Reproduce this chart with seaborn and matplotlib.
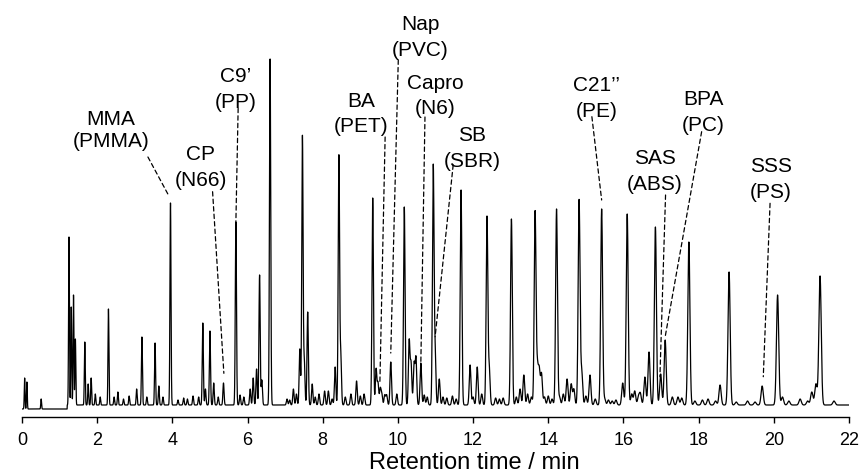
import numpy as np
import pandas as pd
import matplotlib
matplotlib.use("Agg")
import matplotlib.pyplot as plt
import seaborn as sns

# ---------------- data ----------------
# retention times (min) of peaks and their apex heights (arbitrary units)
peak_times = [0.07, 0.13, 0.51,
              1.25, 1.31, 1.37, 1.42, 1.67, 1.76, 1.84, 1.95, 2.08, 2.30, 2.45, 2.55,
              2.70, 2.85, 3.05, 3.19, 3.32, 3.54, 3.64, 3.75, 3.95, 4.15, 4.30, 4.40,
              4.55, 4.70, 4.81, 4.88, 5.00, 5.10, 5.22, 5.36, 5.69, 5.80, 5.90, 6.07,
              6.15, 6.24, 6.32, 6.38, 6.60, 7.05, 7.12, 7.22, 7.30, 7.39, 7.46, 7.51,
              7.60, 7.72, 7.80, 7.90, 8.05, 8.15, 8.25, 8.33, 8.43, 8.48, 8.60, 8.75,
              8.90, 9.00, 9.10, 9.33, 9.42, 9.47, 9.53, 9.57, 9.65, 9.70, 9.81, 9.97,
              10.17, 10.30, 10.35, 10.43, 10.48, 10.61, 10.70, 10.78, 10.94,
              10.99, 11.10, 11.20, 11.30, 11.45, 11.55, 11.68, 11.92, 12.00, 12.11,
              12.23, 12.37, 12.43, 12.60, 12.70, 12.80, 13.02, 13.15, 13.25, 13.35,
              13.45, 13.55, 13.65, 13.71, 13.76, 13.82, 13.90, 14.00, 14.10, 14.22,
              14.30, 14.40, 14.50, 14.61, 14.68, 14.82, 14.89, 15.00, 15.11, 15.25,
              15.42, 15.50, 15.60, 15.70, 15.80, 15.98, 16.10, 16.22, 16.30, 16.40,
              16.45, 16.57, 16.68, 16.85, 16.99, 17.11, 17.30, 17.45, 17.55, 17.74,
              17.90, 18.10, 18.25, 18.45, 18.57, 18.81, 19.00, 19.30, 19.50, 19.69,
              20.10, 20.23, 20.40, 20.70, 20.90, 21.01, 21.12, 21.23, 21.60]
peak_heights = [31, 27, 10,
                172, 102, 114, 70, 67, 25, 31, 15, 12, 100, 12, 17,
                10, 13, 20, 72, 12, 66, 23, 12, 206, 9, 11, 10,
                13, 12, 86, 20, 78, 26, 12, 26, 187, 14, 12, 20,
                31, 40, 134, 29, 350, 10, 9, 20, 15, 60, 273, 47,
                97, 25, 12, 15, 18, 18, 10, 42, 253, 53, 12, 15,
                28, 13, 15, 211, 40, 26, 20, 15, 14, 14, 47, 15,
                202, 68, 45, 45, 51, 46, 14, 12, 242,
                54, 30, 12, 11, 13, 10, 219, 44, 12, 42,
                15, 192, 40, 11, 10, 11, 190, 12, 20, 34,
                15, 12, 197, 40, 38, 35, 12, 13, 10, 200,
                12, 15, 30, 25, 20, 209, 37, 13, 34, 10,
                200, 10, 9, 8, 9, 26, 195, 15, 18, 12,
                15, 32, 57, 182, 35, 69, 12, 12, 11, 167,
                8, 9, 10, 8, 24, 137, 7, 8, 7, 23,
                114, 12, 8, 10, 8, 17, 25, 133, 8]
baseline_level = 4.0          # detector baseline after the solvent delay
solvent_delay_end = 1.2       # min

x_ticks = [0, 2, 4, 6, 8, 10, 12, 14, 16, 18, 20, 22]
x_label = "Retention time / min"

# annotations: marker compound / polymer, text baseline position, dashed leader line
label_names = ["MMA", "CP", "C9\u2019", "BA", "Nap", "Capro", "SB",
               "C21\u2019\u2019", "SAS", "BPA", "SSS"]
label_polymers = ["(PMMA)", "(N66)", "(PP)", "(PET)", "(PVC)", "(N6)", "(SBR)",
                  "(PE)", "(ABS)", "(PC)", "(PS)"]
label_x = [2.37, 4.76, 5.68, 9.03, 10.59, 10.99, 11.97, 15.28, 16.84, 18.13, 19.93]
label_y_name = [284.0, 249.0, 327.5, 302.5, 379.2, 320.5, 268.2, 318.2, 245.5, 304.2, 237.5]
label_y_poly = [262.0, 223.5, 301.5, 277.2, 353.2, 294.8, 242.2, 292.2, 218.8, 278.2, 211.5]
leader_start_x = [3.35, 5.07, 5.75, 9.66, 10.01, 10.72, 11.47, 15.16, 17.12, 18.08, 19.90]
leader_start_y = [252.0, 217.3, 300.7, 272.0, 349.0, 292.0, 244.0, 292.3, 214.0, 277.3, 205.7]
leader_end_x = [3.88, 5.37, 5.69, 9.52, 9.81, 10.61, 10.99, 15.42, 16.97, 17.11, 19.72]
leader_end_y = [215.0, 35.7, 187.3, 25.7, 56.0, 46.0, 72.3, 209.0, 32.3, 72.3, 32.3]

# ---------------- build the trace from the peak table ----------------
t = np.arange(0.0, 22.0 + 1e-9, 0.002)
base = np.where(t > solvent_delay_end, baseline_level, 0.0)
signal = base.copy()
for pt, ph in zip(peak_times, peak_heights):
    b = baseline_level if pt > solvent_delay_end else 0.0
    sigma = 0.010 + 0.0010 * pt
    signal += (ph - b) * np.exp(-0.5 * ((t - pt) / sigma) ** 2)
df = pd.DataFrame({"time": t, "signal": signal})

# ---------------- plot ----------------
sns.set_theme(style="white")
plt.rcParams["font.family"] = ["Liberation Sans", "DejaVu Sans"]

fig = plt.figure(figsize=(8.63, 4.73), dpi=100)
ax = fig.add_axes([22 / 863, 56 / 473, 827 / 863, 417 / 473])

sns.lineplot(data=df, x="time", y="signal", color="black", linewidth=0.9,
             estimator=None, ax=ax)

ax.set_xlim(0, 22)
ax.set_ylim(-8, 409)
ax.set_xticks(x_ticks)
ax.set_xticklabels([str(v) for v in x_ticks], fontsize=13)
ax.set_yticks([])
ax.set_ylabel("")
for s in ["left", "right", "top"]:
    ax.spines[s].set_visible(False)
ax.spines["bottom"].set_color("black")
ax.spines["bottom"].set_linewidth(1.0)
ax.tick_params(axis="x", direction="out", length=4, width=1.0, color="black",
               pad=7, labelcolor="black", bottom=True)

ax.set_xlabel(x_label, fontsize=17, color="black")
ax.xaxis.label.set_va("baseline")
ax.xaxis.set_label_coords(0.547, -52 / 417)

for i in range(len(label_names)):
    ax.text(label_x[i], label_y_name[i], label_names[i], fontsize=15,
            ha="center", va="baseline", color="black")
    ax.text(label_x[i], label_y_poly[i], label_polymers[i], fontsize=15,
            ha="center", va="baseline", color="black")
    ax.annotate("", xy=(leader_end_x[i], leader_end_y[i]),
                xytext=(leader_start_x[i], leader_start_y[i]),
                arrowprops=dict(arrowstyle="-", linestyle=(0, (3.5, 2.5)),
                                linewidth=0.9, color="black",
                                shrinkA=0, shrinkB=0))

fig.savefig("out.png", dpi=100, facecolor="white")
